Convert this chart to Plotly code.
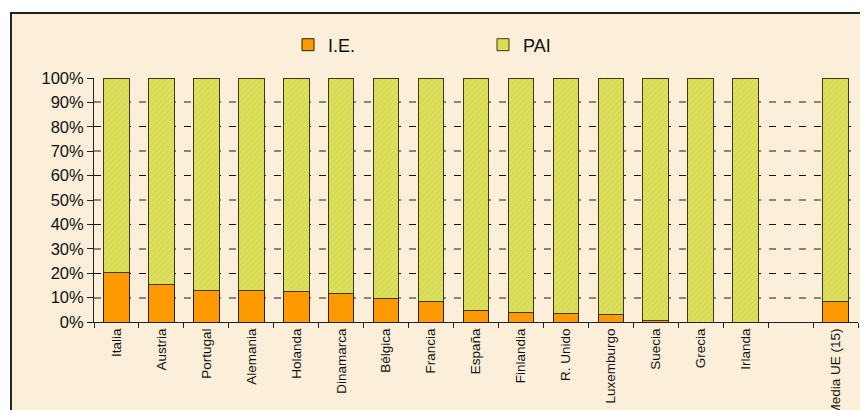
import plotly.graph_objects as go

countries = ["Italia", "Austria", "Portugal", "Alemania", "Holanda", "Dinamarca",
             "Bélgica", "Francia", "España", "Finlandia", "R. Unido", "Luxemburgo",
             "Suecia", "Grecia", "Irlanda", " ", "Media UE (15)"]
ie_pct = [20.4, 15.4, 13.1, 13.0, 12.5, 11.6, 9.8, 8.6, 4.6, 3.8, 3.3, 3.2,
          0.5, 0.0, 0.0, None, 8.2]
pai_pct = [None if v is None else 100 - v for v in ie_pct]
y_ticks = list(range(0, 101, 10))
y_labels = [f"{v}%" for v in y_ticks]

_FONT = "Arial, Liberation Sans, sans-serif"
_BG = "#FBEFD9"
_ORANGE = "#FF9900"
_OLIVE = "#DCDF5B"

# the page adds an 8px body margin, so the figure is drawn 8px smaller/shifted
OFF = 8
W, H = 868 - OFF, 410 - OFF
L, R, T, B = 94 - OFF, 10, 78 - OFF, 88
pw, ph = W - L - R, H - T - B


def px_x(x):
    return (x - OFF - L) / pw


def px_y(y):
    return (H - B - (y - OFF)) / ph


fig = go.Figure()
fig.add_trace(go.Bar(
    x=countries, y=ie_pct, name="I.E.",
    marker=dict(color=_ORANGE, line=dict(color="#2b2200", width=1)),
    width=0.57,
))
fig.add_trace(go.Bar(
    x=countries, y=pai_pct, name="PAI",
    marker=dict(color=_OLIVE, line=dict(color="#3a3a10", width=1),
                pattern=dict(shape="/", fgcolor="#CFD24E", size=4, solidity=0.3)),
    width=0.57,
))
# invisible trace to carry the secondary gridlines
fig.add_trace(go.Scatter(x=[countries[0]], y=[0], yaxis="y2", mode="markers",
                         marker=dict(opacity=0), showlegend=False, hoverinfo="skip"))

fig.add_shape(type="rect", xref="paper", yref="paper",
              x0=px_x(11), x1=px_x(880), y0=px_y(430), y1=px_y(13),
              fillcolor=_BG, line=dict(color="#222", width=2), layer="below")

fig.update_layout(
    width=W, height=H,
    margin=dict(l=L, r=R, t=T, b=B, autoexpand=False),
    paper_bgcolor="white",
    plot_bgcolor="rgba(0,0,0,0)",
    barmode="stack",
    bargap=0.43,
    font=dict(family=_FONT, color="#111"),
    showlegend=True,
    legend=dict(orientation="h", x=px_x(288), y=px_y(45), yanchor="middle",
                xanchor="left", entrywidth=150, entrywidthmode="pixels",
                font=dict(size=18, family=_FONT), bgcolor="rgba(0,0,0,0)",
                itemwidth=30, traceorder="normal"),
    xaxis=dict(
        type="category", categoryorder="array", categoryarray=countries,
        tickangle=-90, tickfont=dict(size=13.5, family=_FONT),
        showline=True, linecolor="#222", linewidth=1,
        ticks="outside", tickson="boundaries", ticklen=5, tickcolor="#222",
        showgrid=False, range=[-0.5, len(countries) - 0.5], automargin=False,
    ),
    yaxis=dict(
        range=[0, 100], tickmode="array", tickvals=y_ticks, ticktext=y_labels,
        tickfont=dict(size=16.5, family=_FONT),
        showline=True, linecolor="#222", linewidth=1,
        ticks="outside", ticklen=6, tickcolor="#222",
        showgrid=False, zeroline=False, automargin=False,
        minor=dict(tickvals=y_ticks[2::2], showgrid=True, gridcolor="#111",
                   griddash="7px,8px", gridwidth=1, ticks=""),
    ),
    yaxis2=dict(
        range=[0, 100], overlaying="y", tickvals=y_ticks[1::2],
        showticklabels=False, showgrid=True, gridcolor="#8a847c",
        griddash="7px,8px", gridwidth=2, zeroline=False, showline=False,
        automargin=False,
    ),
)

fig.write_html("out.html")
